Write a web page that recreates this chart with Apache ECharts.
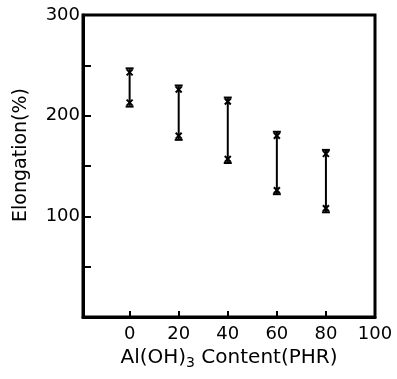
<!DOCTYPE html>
<html>
<head>
<meta charset="utf-8">
<script src="https://cdn.jsdelivr.net/npm/echarts@6/dist/echarts.min.js"></script>
<style>
  html, body { margin: 0; padding: 0; background: #fff; }
  #chart { width: 397px; height: 379px; }
</style>
</head>
<body>
<div id="chart"></div>
<script>
// Al(OH)3 content (PHR) and elongation range (%)
const contents = [0, 20, 40, 60, 80]
const elongMax = [247, 230, 218, 184, 166]
const elongMin = [209, 176, 153, 122, 104]
const xTicks = [0, 20, 40, 60, 80, 100]

const chart = echarts.init(document.getElementById('chart'))
const font = 'DejaVu Sans'

// error bar with small crossed caps at each end
const renderRange = (params, api) => {
  const top = api.coord([api.value(0), api.value(1)])
  const bot = api.coord([api.value(0), api.value(2)])
  const x = top[0]
  const style = { stroke: '#000', lineWidth: 2 }
  const seg = (x1, y1, x2, y2) => ({ type: 'line', shape: { x1, y1, x2, y2 }, style })
  return {
    type: 'group',
    children: [
      seg(x, top[1], x, bot[1]),
      seg(x - 4, top[1], x + 4, top[1]),
      seg(x - 3, top[1] + 1, x + 3, top[1] + 7),
      seg(x + 3, top[1] + 1, x - 3, top[1] + 7),
      seg(x - 4, bot[1], x + 4, bot[1]),
      seg(x - 3, bot[1] - 1, x + 3, bot[1] - 7),
      seg(x + 3, bot[1] - 1, x - 3, bot[1] - 7)
    ]
  }
}

chart.setOption({
  backgroundColor: '#fff',
  animation: false,
  grid: {
    left: 83, right: 22, top: 15, bottom: 62,
    show: true, borderColor: '#000', borderWidth: 3
  },
  xAxis: {
    type: 'value',
    min: -19,
    max: 100,
    name: '{n|Al(OH)}{s|3}{n| Content(PHR)}',
    nameLocation: 'middle',
    nameGap: 25,
    nameTextStyle: {
      rich: {
        n: { fontFamily: font, fontSize: 20, color: '#000' },
        s: { fontFamily: font, fontSize: 14, color: '#000', padding: [11, 0, 0, 0] }
      }
    },
    axisLine: { onZero: false, lineStyle: { color: '#000', width: 3 } },
    axisTick: { inside: true, length: 6, customValues: xTicks, lineStyle: { color: '#000', width: 2 } },
    axisLabel: { customValues: xTicks, color: '#000', fontFamily: font, fontSize: 18, margin: 8 },
    splitLine: { show: false }
  },
  yAxis: {
    type: 'value',
    min: 0,
    max: 300,
    interval: 50,
    name: 'Elongation(%)',
    nameLocation: 'middle',
    nameGap: 52,
    nameTextStyle: { fontFamily: font, fontSize: 19, color: '#000', padding: [0, 0, 0, 22] },
    axisLine: { onZero: false, lineStyle: { color: '#000', width: 3 } },
    axisTick: { inside: true, length: 8, lineStyle: { color: '#000', width: 2 } },
    axisLabel: {
      color: '#000', fontFamily: font, fontSize: 18, margin: 3,
      formatter: v => (v > 0 && v % 100 === 0 ? String(v) : '')
    },
    splitLine: { show: false }
  },
  series: [
    {
      type: 'custom',
      renderItem: renderRange,
      encode: { x: 0, y: [1, 2] },
      data: contents.map((c, i) => [c, elongMax[i], elongMin[i]])
    }
  ]
})
</script>
</body>
</html>
